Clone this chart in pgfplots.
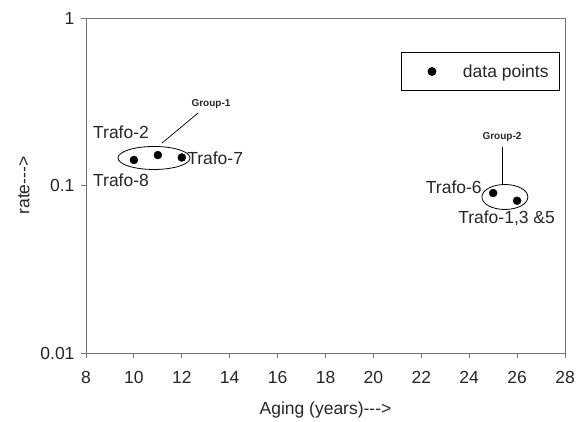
\documentclass[border=0pt]{standalone}
\usepackage{fontspec}
\setmainfont{Liberation Sans}
\usepackage{pgfplots}
\pgfplotsset{compat=1.18}
\definecolor{axgray}{rgb}{0.45,0.45,0.45}
\definecolor{txt}{rgb}{0.15,0.15,0.15}
\begin{document}
\begin{tikzpicture}
\begin{axis}[
  scale only axis,
  width=479pt, height=335pt,
  xmin=8, xmax=28, ymode=log, ymin=0.01, ymax=1,
  xtick={8,10,...,28},
  ytick={0.01,0.1,1}, yticklabels={0.01,0.1,1},
  yminorticks=false,
  axis line style={axgray, line width=0.9pt},
  tick style={axgray, line width=0.9pt},
  tick align=outside, major tick length=5pt,
  xtick pos=bottom, ytick pos=left,
  /pgf/number format/assume math mode=true,
  tick label style={font=\fontsize{17.5}{20}\selectfont, text=txt},
  xticklabel style={yshift=-10pt},
  yticklabel style={xshift=-3pt},
  label style={font=\fontsize{17.5}{20}\selectfont, text=txt},
  xlabel={Aging (years)-{}-{}->},
  ylabel={rate-{}-{}->},
  xlabel style={yshift=-11pt},
  ylabel style={yshift=4pt},
  legend style={at={(1,1)}, xshift=-5pt, yshift=-34pt, anchor=north east,
    draw=black, line width=0.8pt, inner xsep=0pt, inner ysep=10pt,
    font=\fontsize{17.5}{20}\selectfont, text=txt},
  legend image code/.code={\path[draw=none,fill=none] (0pt,-3pt) rectangle (60pt,3pt); \fill[black] (31pt,0pt) circle (4pt);},
]
\addplot[only marks, mark=*, mark size=4pt, black] coordinates {
  (10,0.142) (11,0.152) (12,0.147) (25,0.0902) (26,0.0811)
};
\addlegendentry{data points\kern9pt}
\draw[black, line width=0.8pt] (axis cs:10.84,0.146) ellipse [x radius=36pt, y radius=11.5pt];
\draw[black, line width=0.8pt] (axis cs:25.49,0.0854) ellipse [x radius=23pt, y radius=12.5pt];
\draw[black, line width=0.7pt] (axis cs:12.68,0.271) -- (axis cs:11.17,0.179);
\draw[black, line width=0.7pt] (axis cs:25.38,0.170) -- (axis cs:25.38,0.1007);
\node[font=\fontsize{10}{12}\selectfont\bfseries, text=txt] at (axis cs:13.22,0.307) {Group-1};
\node[font=\fontsize{10}{12}\selectfont\bfseries, text=txt] at (axis cs:25.37,0.195) {Group-2};
\begin{scope}[every node/.style={font=\fontsize{17.5}{20}\selectfont, text=txt, inner sep=0pt}]
\node[anchor=west] at (axis cs:8.29,0.209) {Trafo-2};
\node[anchor=west] at (axis cs:8.29,0.108) {Trafo-8};
\node[anchor=west] at (axis cs:12.22,0.146) {Trafo-7};
\node[anchor=east] at (axis cs:24.53,0.098) {Trafo-6};
\node at (axis cs:25.56,0.064) {Trafo-1,3 \&5};
\end{scope}
\end{axis}
\pgfresetboundingbox
\path (current axis.south west) ++(-86pt,-69pt) rectangle ++(580pt,422pt);
\end{tikzpicture}
\end{document}
